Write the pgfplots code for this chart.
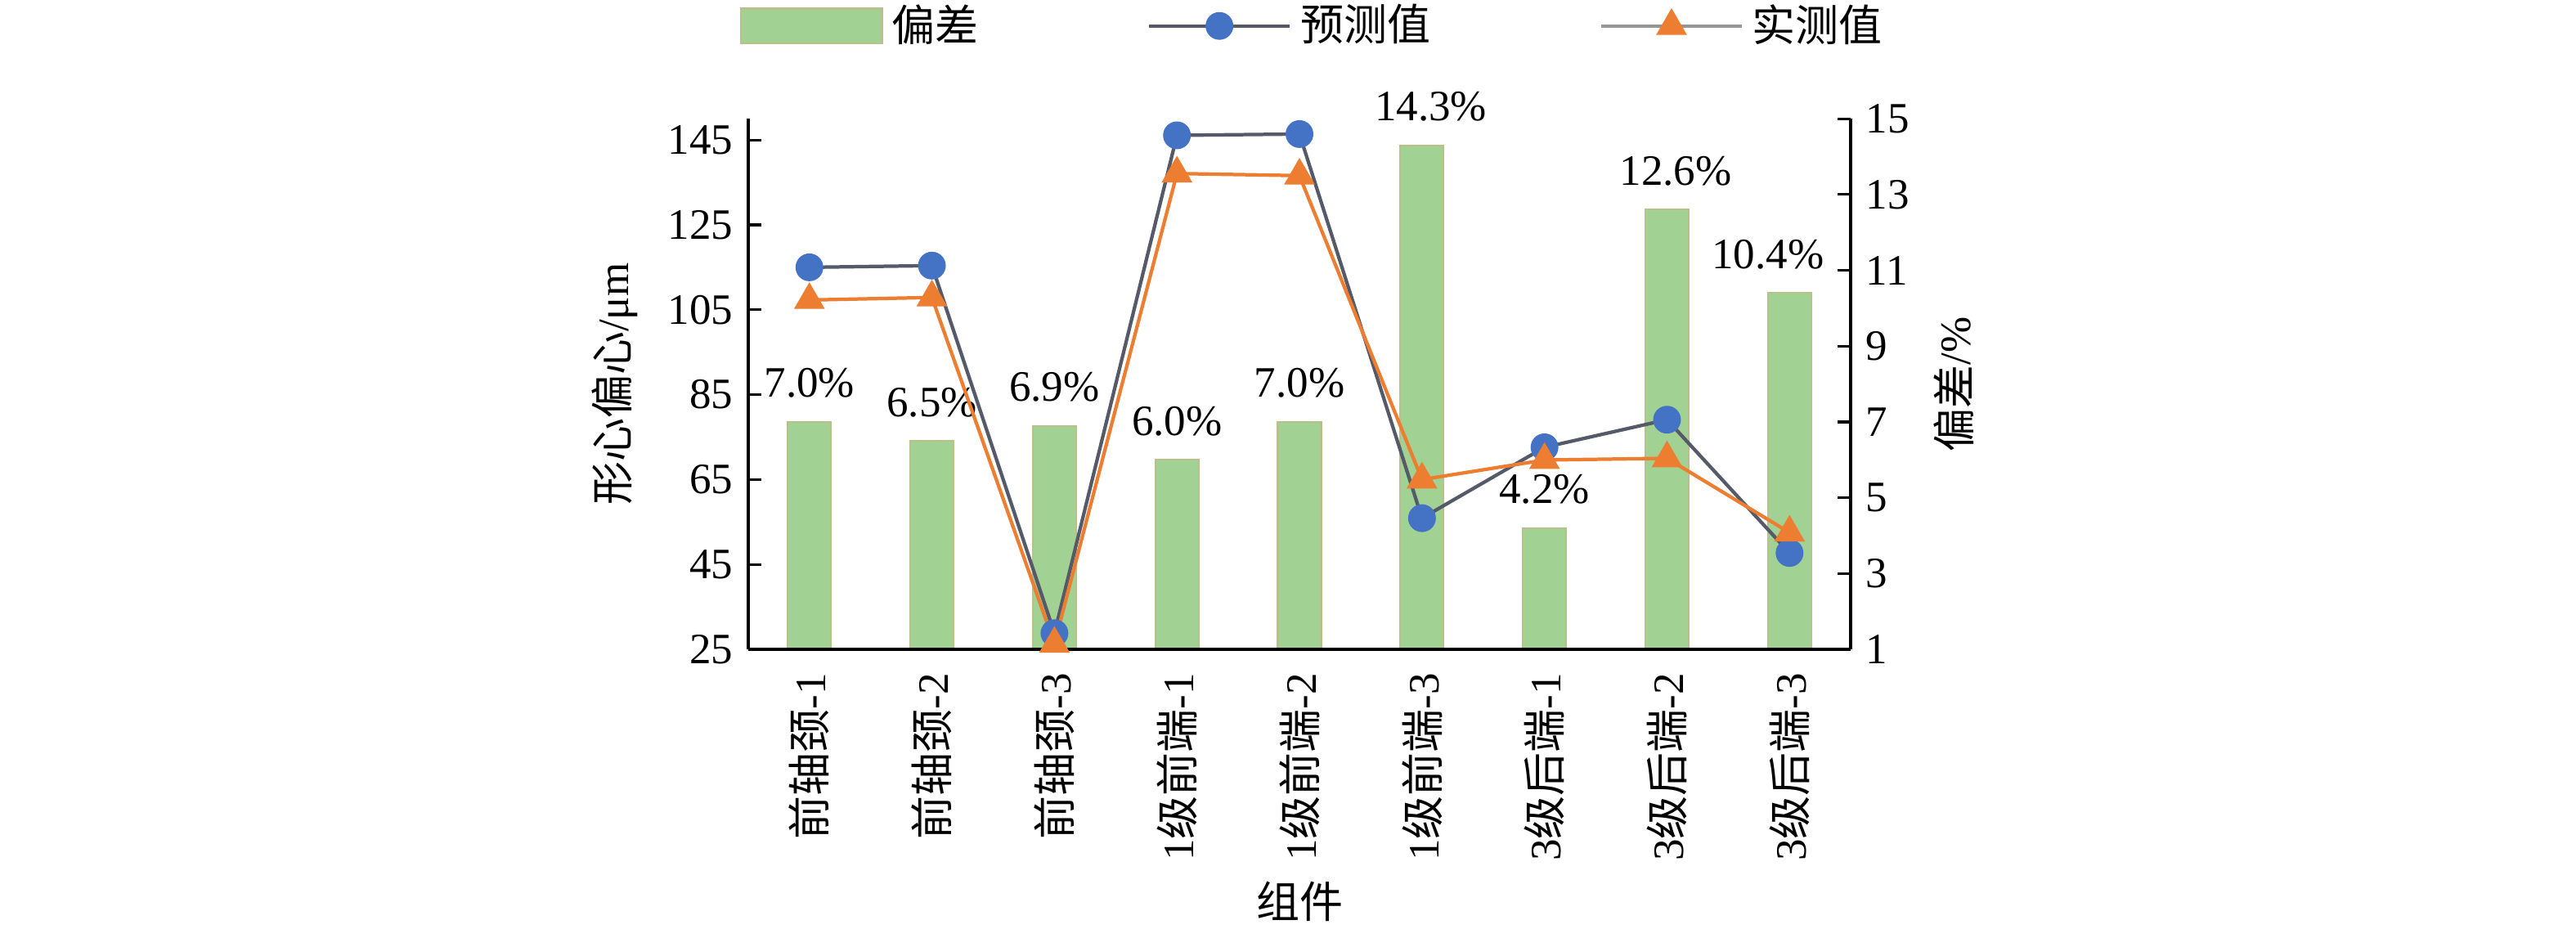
\documentclass[border=0pt]{standalone}
\usepackage{fontspec}
\setmainfont{Liberation Serif}
\newfontfamily\cjk{Noto Sans CJK SC}
\usepackage{pgfplots}
\pgfplotsset{compat=1.18}
\usepackage{pgfplotstable}
\definecolor{bargreen}{RGB}{161,209,147}
\definecolor{baredge}{RGB}{185,192,140}
\definecolor{mblue}{RGB}{68,114,196}
\definecolor{lgray}{RGB}{85,90,105}
\definecolor{leggray}{RGB}{150,150,150}
\definecolor{morange}{RGB}{237,125,49}

\pgfplotsset{
  barlegend/.style={legend image code/.code={\draw[##1] (0pt,-4pt) rectangle (32.5pt,4pt);}},
  linelegend/.style={legend image code/.code={\draw[##1, mark repeat=2, mark phase=2] plot coordinates {(0pt,0pt) (16.25pt,0pt) (32.5pt,0pt)};}},
  base/.style={
    width=254.4pt, height=122.4pt, scale only axis,
    at={(172.6pt,64.5pt)}, anchor=south west,
    xmin=-0.5, xmax=8.5,
    tick align=inside, major tick length=3pt,
    /pgf/number format/assume math mode=true,
    axis line style={line width=0.7pt},
    tick style={line width=0.6pt, black},
  },
}

\pgfplotstableread{
x dev dx
0 7.0 0
1 6.5 0
2 6.9 0
3 6.0 0
4 7.0 0
5 14.3 2
6 4.2 0
7 12.6 2
8 10.4 -5
}\devtable

\pgfplotstableread{
x pred meas
0 115.0 107.3
1 115.4 107.9
2 28.8 26.3
3 146.1 137.1
4 146.4 136.6
5 55.9 65.0
6 72.6 69.6
7 79.1 70.0
8 47.7 52.5
}\valtable

\begin{document}
\begin{tikzpicture}
\useasboundingbox (0,0) rectangle (594.3pt,214.3pt);
\begin{axis}[base,
  axis x line=none, axis y line*=right,
  xtick=\empty,
  ymin=1, ymax=15, ytick={1,3,...,15},
  ylabel={{\cjk 偏差}/\%},
  ylabel style={at={(axis description cs:1.0936,0.5)}, anchor=center},
]
\addplot[ybar, bar width=10pt, fill=bargreen, draw=baredge, line width=0.4pt,
  visualization depends on={\thisrow{dx}\as\dx},
  nodes near coords={\pgfmathprintnumber[fixed,fixed zerofill,precision=1]{\pgfplotspointmeta}\%},
  nodes near coords style={xshift=\dx pt, yshift=2pt, black}]
  table[x=x, y=dev]{\devtable};
\end{axis}
\begin{axis}[base,
  axis x line*=bottom, axis y line*=left,
  ymin=25, ymax=150, ytick={25,45,...,145},
  xtick={0,...,8},
  xticklabels={{\cjk 前轴颈}-1,{\cjk 前轴颈}-2,{\cjk 前轴颈}-3,1{\cjk 级前端}-1,1{\cjk 级前端}-2,1{\cjk 级前端}-3,3{\cjk 级后端}-1,3{\cjk 级后端}-2,3{\cjk 级后端}-3},
  xticklabel style={rotate=90, anchor=east},
  xticklabel shift=2pt,
  x tick style={draw=none},
  xlabel={\cjk 组件},
  xlabel style={at={(axis description cs:0.5,-0.4747)}, anchor=center},
  ylabel={{\cjk 形心偏心}/μm},
  ylabel style={at={(axis description cs:-0.1207,0.5)}, anchor=center},
  legend columns=3,
  legend style={draw=none, fill=none, at={(axis description cs:0.5147,1.175)}, anchor=center,
    /tikz/every even column/.append style={column sep=37pt}, font=\cjk},
]
\addlegendimage{barlegend, fill=bargreen, draw=baredge, line width=0.4pt}
\addlegendentry{偏差}
\addlegendimage{linelegend, lgray, line width=0.8pt, mark=*, mark size=2.8pt, mark options={fill=mblue, draw=mblue}}
\addlegendentry{预测值}
\addlegendimage{linelegend, leggray, line width=0.8pt, mark=triangle*, mark size=3.3pt, mark options={fill=morange, draw=morange}}
\addlegendentry{实测值}
\addplot[lgray, line width=0.8pt, mark=*, mark size=2.8pt, mark options={fill=mblue, draw=mblue}, forget plot]
  table[x=x, y=pred]{\valtable};
\addplot[morange, line width=0.8pt, mark=triangle*, mark size=3.3pt, mark options={fill=morange, draw=morange}, forget plot]
  table[x=x, y=meas]{\valtable};
\end{axis}
\end{tikzpicture}
\end{document}
